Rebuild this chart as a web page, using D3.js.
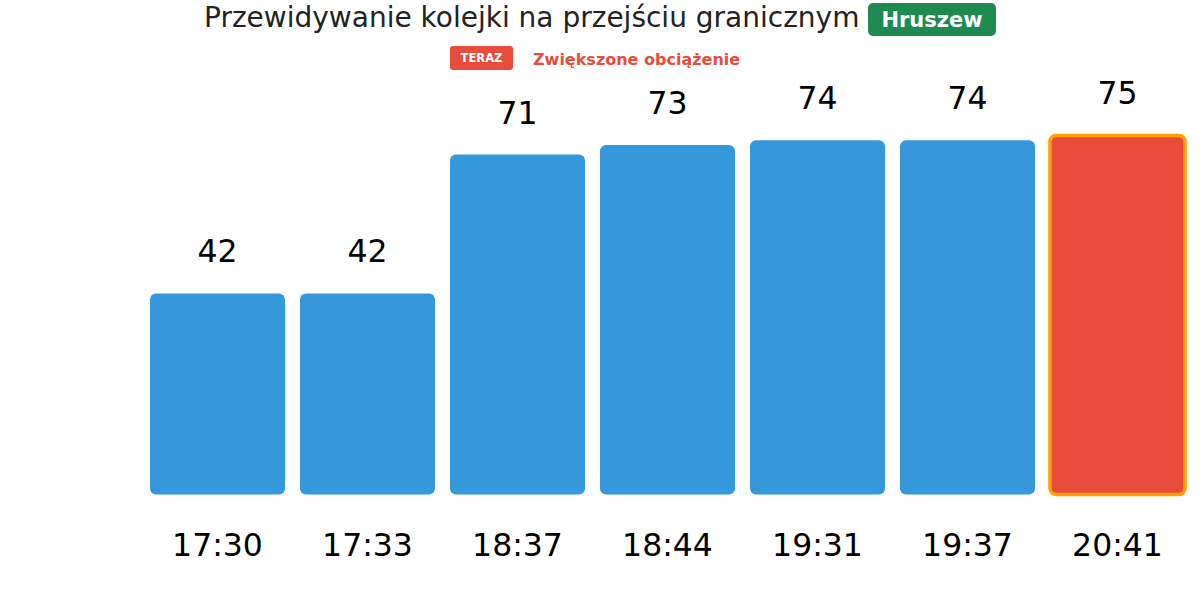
<!DOCTYPE html>
<html><head><meta charset="utf-8">
<script src="https://cdn.jsdelivr.net/npm/d3@7"></script>
<style>body{margin:0;background:#fff}svg{display:block}</style>
</head><body>
<svg id="c" width="1200" height="616"></svg>
<script>
const categories = ["17:30","17:33","18:37","18:44","19:31","19:37","20:41"];
const values = [42,42,71,73,74,74,75];
const highlightIndex = 6;
const titleText = "Przewidywanie kolejki na przejściu granicznym";
const badgeText = "Hruszew";
const legendBadge = "TERAZ";
const legendText = "Zwiększone obciążenie";

const svg = d3.select("#c");
const font = "DejaVu Sans, sans-serif";
const x = d3.scaleBand().domain(categories).range([142.5, 1192.5]).paddingInner(0.1).paddingOuter(0.05);
const y = d3.scaleLinear().domain([0, d3.max(values)*1.1]).range([494.5, 99.5]);

const g = svg.append("g");
g.selectAll("rect.bar").data(values).join("rect")
  .attr("class","bar")
  .attr("x",(d,i)=>x(categories[i]))
  .attr("y",d=>y(d))
  .attr("width",x.bandwidth())
  .attr("height",d=>y(0)-y(d))
  .attr("rx",6)
  .attr("fill",(d,i)=>i===highlightIndex?"#e74c3c":"#3498db")
  .attr("stroke",(d,i)=>i===highlightIndex?"#ff9f00":"none")
  .attr("stroke-width",3.5);

g.selectAll("text.val").data(values).join("text")
  .attr("x",(d,i)=>x(categories[i])+x.bandwidth()/2)
  .attr("y",d=>y(d)-31)
  .attr("text-anchor","middle")
  .attr("font-family",font).attr("font-size",31.5).attr("fill","#000")
  .text(d=>d);

const xAxis = d3.axisBottom(x).tickSize(0).tickPadding(0);
const ax = svg.append("g").attr("transform","translate(0,556)").call(xAxis);
ax.select(".domain").remove();
ax.selectAll("text").attr("font-family",font).attr("font-size",31.5).attr("fill","#000").attr("dy",0);

// title
svg.append("text").attr("x",204).attr("y",27)
  .attr("font-family",font).attr("font-size",28).attr("fill","#222")
  .text(titleText);
svg.append("rect").attr("x",868).attr("y",3).attr("width",128).attr("height",33).attr("rx",5).attr("fill","#1e8a52");
svg.append("text").attr("x",932).attr("y",26.5).attr("text-anchor","middle")
  .attr("font-family",font).attr("font-weight","bold").attr("font-size",21).attr("fill","#fff").text(badgeText);

svg.append("rect").attr("x",450).attr("y",46).attr("width",63).attr("height",24).attr("rx",3).attr("fill","#e74c3c");
svg.append("text").attr("x",481.5).attr("y",62).attr("text-anchor","middle")
  .attr("font-family",font).attr("font-weight","bold").attr("font-size",11.5).attr("fill","#fff").text(legendBadge);
svg.append("text").attr("x",533).attr("y",65)
  .attr("font-family",font).attr("font-weight","bold").attr("font-size",16).attr("fill","#e74c3c").text(legendText);
</script>
</body></html>
